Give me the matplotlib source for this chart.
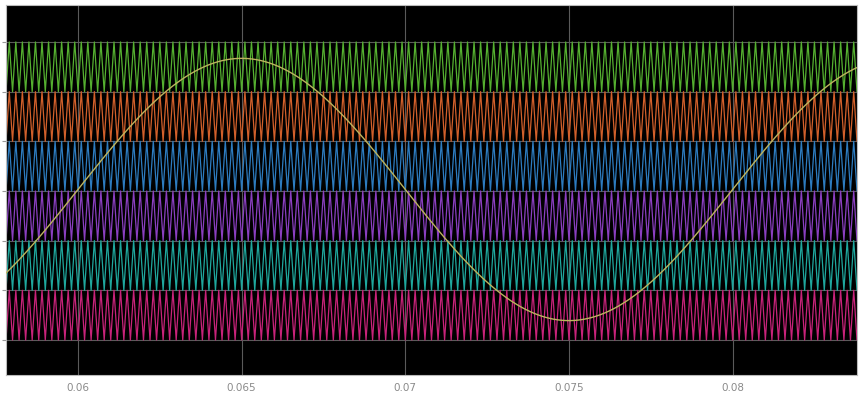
import numpy as np
from matplotlib import pyplot as plt

# carrier / reference parameters
F_CARRIER = 5000.0      # Hz
F_REF     = 50.0        # Hz
M_INDEX   = 0.88        # modulation index
T_START   = 0.0578
T_END     = 0.0838
band_edges = [-1.0, -2/3, -1/3, 0.0, 1/3, 2/3, 1.0]
band_colors = ['#c8237a', '#1fa89e', '#8a3fc0', '#2d7cc0', '#d2602b', '#55b030']   # bottom -> top
ref_color = '#bdb45e'
x_ticks = [0.06, 0.065, 0.07, 0.075, 0.08]
x_labels = ['0.06', '0.065', '0.07', '0.075', '0.08']

fig = plt.figure(figsize=(8.59, 3.96), dpi=100)
ax = fig.add_axes([6/859, 21/396, 851/859, 370/396])
ax.set_facecolor('black')

# triangle vertices: valley at n*T, peak at (n+0.5)*T (all carriers in phase)
T = 1.0 / F_CARRIER
n0 = int(np.floor(T_START / T)) - 1
n1 = int(np.ceil(T_END / T)) + 1
t_tri = np.arange(2*n0, 2*n1 + 1) * T / 2
shape = (np.arange(2*n0, 2*n1 + 1) % 2).astype(float)   # 0 at valleys, 1 at peaks

for k in range(6):
    lo, hi = band_edges[k], band_edges[k+1]
    ax.plot(t_tri, lo + (hi - lo) * shape, color=band_colors[k], lw=0.9, zorder=2)

# sinusoidal reference
t_ref = np.linspace(T_START, T_END, 2000)
ax.plot(t_ref, M_INDEX * np.sin(2*np.pi*F_REF*(t_ref - 0.06)) + 0.01,
        color=ref_color, lw=1.0, zorder=3)

ax.set_xlim(T_START, T_END)
ax.set_ylim(-1.235, 1.248)
ax.set_xticks(x_ticks)
ax.set_xticklabels(x_labels)
ax.set_yticks(band_edges)
ax.set_yticklabels([])
ax.grid(True, color='#5a5a5a', lw=0.8, zorder=1)
ax.set_axisbelow(True)
ax.tick_params(axis='x', length=0, pad=6, labelsize=7.5, labelcolor='#8a8a8a')
ax.tick_params(axis='y', length=3, color='#999999')
for s in ax.spines.values():
    s.set_color('#bbbbbb')
    s.set_linewidth(0.8)

fig.savefig('out.png', dpi=100)
plt.close()
